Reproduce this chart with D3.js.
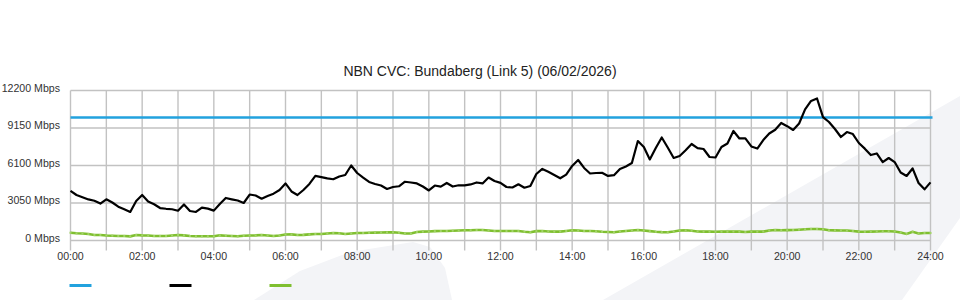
<!DOCTYPE html>
<html>
<head>
<meta charset="utf-8">
<script src="https://cdn.jsdelivr.net/npm/d3@7"></script>
<style>
  body { margin: 0; background: #fff; }
  svg { display: block; font-family: "Liberation Sans", Arial, sans-serif; }
  .tick text { fill: #333; font-size: 10.6px; }
</style>
</head>
<body>
<div id="chart"></div>
<script>
var title = "NBN CVC: Bundaberg (Link 5) (06/02/2026)";

// y axis ticks (Mbps) and x axis ticks (minutes since midnight)
var yTicks = [0, 3050, 6100, 9150, 12200];
var xTicks = [0, 120, 240, 360, 480, 600, 720, 840, 960, 1080, 1200, 1320, 1440];
var xTickLabels = ["00:00", "02:00", "04:00", "06:00", "08:00", "10:00", "12:00",
                   "14:00", "16:00", "18:00", "20:00", "22:00", "24:00"];

// one sample every 10 minutes, 00:00 .. 24:00
var interval = 10;

var capacity = 10000;

var blackValues = [
  4030, 3700, 3520, 3340, 3230, 3000, 3350, 3090, 2750, 2540,
  2320, 3210, 3700, 3170, 2950, 2640, 2580, 2540, 2420, 2930,
  2400, 2320, 2680, 2590, 2430, 2970, 3460, 3350, 3250, 3050,
  3740, 3660, 3400, 3620, 3810, 4110, 4640, 3990, 3700, 4110,
  4600, 5250, 5160, 5050, 4980, 5210, 5330, 6100, 5490, 5110,
  4760, 4600, 4470, 4190, 4350, 4410, 4780, 4720, 4640, 4390,
  4070, 4470, 4380, 4680, 4390, 4490, 4490, 4560, 4720, 4640,
  5120, 4840, 4690, 4350, 4310, 4570, 4290, 4430, 5410, 5820,
  5590, 5330, 5060, 5360, 6060, 6550, 5900, 5450, 5490, 5510,
  5250, 5310, 5820, 6020, 6300, 8090, 7600, 6590, 7520, 8380,
  7560, 6710, 6870, 7340, 7850, 7520, 7440, 6790, 6750, 7600,
  7890, 8910, 8300, 8300, 7650, 7480, 8170, 8700, 9010, 9560,
  9300, 8990, 9520, 10670, 11350, 11550, 10040, 9640, 9070, 8420,
  8820, 8660, 7930, 7470, 6950, 7080, 6380, 6710, 6380, 5530,
  5250, 5860, 4680, 4160, 4730
];

var greenValues = [
  630, 590, 570, 530, 450, 450, 410, 390, 370, 370,
  340, 450, 420, 410, 370, 370, 370, 410, 450, 420,
  370, 340, 340, 340, 340, 420, 390, 370, 340, 380,
  410, 420, 450, 410, 370, 410, 490, 500, 450, 460,
  500, 530, 530, 570, 610, 590, 530, 570, 610, 610,
  630, 640, 650, 660, 670, 630, 570, 570, 690, 720,
  730, 760, 770, 770, 790, 810, 830, 830, 850, 850,
  810, 770, 770, 770, 770, 770, 710, 670, 760, 770,
  730, 720, 720, 770, 830, 810, 770, 770, 750, 710,
  690, 670, 730, 770, 810, 850, 810, 760, 710, 680,
  670, 730, 810, 830, 790, 730, 720, 720, 710, 720,
  720, 730, 720, 690, 720, 720, 720, 810, 850, 830,
  840, 850, 880, 910, 940, 940, 910, 830, 820, 810,
  810, 770, 720, 710, 720, 730, 750, 750, 730, 650,
  530, 710, 570, 610, 610
];

var colors = ["#22a2de", "#000000", "#7fbf30"];

var width = 960, height = 300;

var svg = d3.select("#chart")
    .append("svg")
        .attr("width", width)
        .attr("height", height);

// faint background swooshes
var shapes = [
  [[254, 300], [300, 271], [350, 252], [413, 242], [430, 247], [445, 268], [452, 300]],
  [[603, 300], [960, 96], [960, 218], [902, 300]]
];
svg.selectAll("polygon.bg")
    .data(shapes)
    .enter().append("polygon")
        .attr("class", "bg")
        .attr("points", function(d) { return d.map(function(p) { return p.join(","); }).join(" "); })
        .style("fill", "#f3f4f7");

var x = d3.scaleLinear()
    .domain([0, 1440])
    .range([70.5, 930.5]);

var y = d3.scaleLinear()
    .domain([0, 12200])
    .range([240.5, 90.5]);

// vertical grid, one line per hour, running a bit below the bottom
svg.append("g")
    .selectAll("line")
    .data(d3.range(0, 1441, 60))
    .enter().append("line")
        .attr("x1", function(d) { return x(d); })
        .attr("x2", function(d) { return x(d); })
        .attr("y1", y(12200))
        .attr("y2", y(0) + 10)
        .style("stroke", "#c2c2c2")
        .style("stroke-width", 1.4);

// y axis + horizontal grid
var yAxis = svg.append("g")
    .attr("transform", "translate(" + x(0) + ",0)")
    .call(d3.axisLeft(y)
        .tickValues(yTicks)
        .tickSize(-(x(1440) - x(0)))
        .tickPadding(10.5)
        .offset(0)
        .tickFormat(function(d) { return d + " Mbps"; }));
yAxis.select(".domain").remove();
yAxis.selectAll(".tick line")
    .style("stroke", "#c2c2c2")
    .style("stroke-width", 1.4);
yAxis.selectAll(".tick text").attr("dy", "0.12em");

// x axis labels
var xAxis = svg.append("g")
    .attr("transform", "translate(0," + y(0) + ")")
    .call(d3.axisBottom(x)
        .tickValues(xTicks)
        .tickSize(0)
        .tickPadding(12)
        .offset(0)
        .tickFormat(function(d, i) { return xTickLabels[i]; }));
xAxis.select(".domain").remove();

// title
svg.append("text")
    .attr("x", 480)
    .attr("y", 76)
    .style("text-anchor", "middle")
    .style("font-size", "14px")
    .style("fill", "#222")
    .text(title);

// capacity line
svg.append("line")
    .attr("x1", x(0))
    .attr("x2", x(1440) + 2)
    .attr("y1", y(capacity))
    .attr("y2", y(capacity))
    .style("stroke", colors[0])
    .style("stroke-width", 2.4);

var line = d3.line()
    .x(function(d, i) { return x(i * interval); })
    .y(function(d) { return y(d); });

svg.append("path")
    .datum(greenValues)
    .attr("d", line)
    .style("fill", "none")
    .style("stroke", colors[2])
    .style("stroke-width", 2.6);

svg.append("g")
    .selectAll("rect")
    .data(greenValues)
    .enter().append("rect")
        .attr("x", function(d, i) { return x(i * interval) - 1; })
        .attr("y", function(d) { return y(d) - 1; })
        .attr("width", 2)
        .attr("height", 2)
        .style("fill", "#a3d468");

svg.append("path")
    .datum(blackValues)
    .attr("d", line)
    .style("fill", "none")
    .style("stroke", colors[1])
    .style("stroke-width", 2.2)
    .style("stroke-linejoin", "round");

// legend swatches (no labels shown)
svg.append("g")
    .selectAll("line")
    .data(colors)
    .enter().append("line")
        .attr("x1", function(d, i) { return 69.5 + i * 100; })
        .attr("x2", function(d, i) { return 91.5 + i * 100; })
        .attr("y1", 285.5)
        .attr("y2", 285.5)
        .style("stroke", function(d) { return d; })
        .style("stroke-width", 3);
</script>
</body>
</html>
